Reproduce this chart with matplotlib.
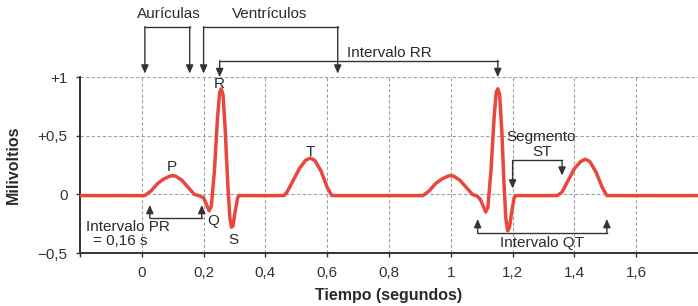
import matplotlib.pyplot as plt
import numpy as np

plt.rcParams['font.family'] = ['Liberation Sans', 'DejaVu Sans']

# ECG trace (time in s, voltage in mV)
t = [-0.2, 0.01, 0.03, 0.05, 0.07, 0.09, 0.10, 0.11, 0.13, 0.15, 0.17, 0.19,
     0.20, 0.21, 0.218, 0.225, 0.235, 0.245, 0.252, 0.257, 0.263, 0.27, 0.278,
     0.285, 0.29, 0.295, 0.302, 0.31, 0.315,
     0.46, 0.47, 0.49, 0.51, 0.53, 0.545, 0.56, 0.58, 0.60, 0.615,
     0.91, 0.93, 0.95, 0.97, 0.99, 1.00, 1.01, 1.03, 1.05, 1.07, 1.085,
     1.095, 1.105, 1.113, 1.12, 1.13, 1.14, 1.147, 1.152, 1.158, 1.165, 1.172,
     1.178, 1.184, 1.19, 1.197, 1.205, 1.21,
     1.345, 1.36, 1.38, 1.40, 1.42, 1.435, 1.45, 1.47, 1.49, 1.505, 1.8]
mv = [-0.01, -0.01, 0.03, 0.09, 0.13, 0.155, 0.16, 0.155, 0.12, 0.06, 0.0, -0.015,
      -0.03, -0.09, -0.14, -0.10, 0.2, 0.65, 0.87, 0.9, 0.85, 0.55, 0.1,
      -0.2, -0.28, -0.27, -0.15, -0.03, -0.01,
      -0.01, 0.02, 0.12, 0.22, 0.29, 0.31, 0.29, 0.2, 0.06, -0.01,
      -0.01, 0.03, 0.09, 0.13, 0.155, 0.16, 0.155, 0.12, 0.06, 0.0, -0.015,
      -0.04, -0.10, -0.15, -0.11, 0.2, 0.65, 0.87, 0.9, 0.85, 0.55, 0.1,
      -0.2, -0.31, -0.28, -0.15, -0.03, -0.01,
      -0.01, 0.02, 0.12, 0.22, 0.28, 0.30, 0.28, 0.19, 0.06, -0.01, -0.01]

xticks = [-0.2, 0, 0.2, 0.4, 0.6, 0.8, 1.0, 1.2, 1.4, 1.6]
xlabels = ['', '0', '0,2', '0,4', '0,6', '0,8', '1', '1,2', '1,4', '1,6']
yticks = [-0.5, 0, 0.5, 1]
ylabels = ['\u22120,5', '0', '+0,5', '+1']

# wave labels
wave_names = ['P', 'Q', 'R', 'S', 'T']
wave_x = [0.097, 0.232, 0.252, 0.295, 0.545]
wave_y = [0.23, -0.23, 0.94, -0.39, 0.36]

txt = '#2a2a2a'
fs = 11
fig = plt.figure(figsize=(6.98, 3.06), dpi=100)
ax = fig.add_axes([0.1146, 0.173, 0.8854, 0.575])

for x in xticks[1:]:
    ax.plot([x, x], [-0.5, 1.0], color='#a0a0a0', lw=0.8, ls=(0, (3, 2)), zorder=1)
for y in [0, 0.5, 1.0]:
    ax.plot([-0.2, 1.8], [y, y], color='#a0a0a0', lw=0.8, ls=(0, (3, 2)), zorder=1)

ax.plot(t, mv, color='#e8473d', lw=2.5, solid_joinstyle='round', zorder=3)

for n, x, y in zip(wave_names, wave_x, wave_y):
    ax.text(x, y, n, ha='center', va='center', fontsize=fs, color=txt)

ax.set_xlim(-0.2, 1.8)
ax.set_ylim(-0.5, 1.0)
ax.set_xticks(xticks)
ax.set_xticklabels(xlabels)
ax.set_yticks(yticks)
ax.set_yticklabels(ylabels)
ax.tick_params(labelsize=fs, colors='#333333', length=3, width=1, pad=6)
for s in ['top', 'right']:
    ax.spines[s].set_visible(False)
for s in ['left', 'bottom']:
    ax.spines[s].set_color('#333333')
    ax.spines[s].set_linewidth(1.4)

ax.set_xlabel('Tiempo (segundos)', fontsize=11.5, fontweight='bold', color=txt, labelpad=6)
ax.set_ylabel('Milivoltios', fontsize=11.5, fontweight='bold', color=txt, labelpad=12)

lc = '#333333'
hw = dict(arrowstyle='-|>,head_length=0.5,head_width=0.22', color=lc, lw=1.0, shrinkA=0, shrinkB=0)


def arrow(x, y0, y1):
    ax.annotate('', xy=(x, y1), xytext=(x, y0), arrowprops=hw, annotation_clip=False)


def hline(x0, x1, y):
    ax.plot([x0, x1], [y, y], color=lc, lw=1.0, clip_on=False)


# Auriculas / Ventriculos brackets
hline(0.01, 0.155, 1.43)
arrow(0.01, 1.43, 1.03)
arrow(0.155, 1.43, 1.03)
ax.text(0.087, 1.48, 'Aurículas', ha='center', va='bottom', fontsize=fs, color=txt)
hline(0.2, 0.634, 1.43)
arrow(0.2, 1.43, 1.03)
arrow(0.634, 1.43, 1.03)
ax.text(0.414, 1.48, 'Ventrículos', ha='center', va='bottom', fontsize=fs, color=txt)

# Intervalo RR
hline(0.252, 1.152, 1.14)
arrow(0.252, 1.14, 1.0)
arrow(1.152, 1.14, 1.0)
ax.text(0.80, 1.15, 'Intervalo RR', ha='center', va='bottom', fontsize=fs, color=txt)

# Intervalo PR
hline(0.026, 0.194, -0.2)
arrow(0.026, -0.2, -0.09)
arrow(0.194, -0.2, -0.09)
ax.text(-0.045, -0.28, 'Intervalo PR', ha='center', va='center', fontsize=fs, color=txt)
ax.text(-0.07, -0.40, '= 0,16 s', ha='center', va='center', fontsize=fs, color=txt)

# Intervalo QT
hline(1.087, 1.505, -0.33)
arrow(1.087, -0.33, -0.21)
arrow(1.505, -0.33, -0.21)
ax.text(1.295, -0.41, 'Intervalo QT', ha='center', va='center', fontsize=fs, color=txt)

# Segmento ST
hline(1.2, 1.36, 0.29)
arrow(1.2, 0.29, 0.05)
arrow(1.36, 0.29, 0.16)
ax.text(1.292, 0.49, 'Segmento', ha='center', va='center', fontsize=fs, color=txt)
ax.text(1.294, 0.36, 'ST', ha='center', va='center', fontsize=fs, color=txt)

fig.savefig('out.png', dpi=100)
